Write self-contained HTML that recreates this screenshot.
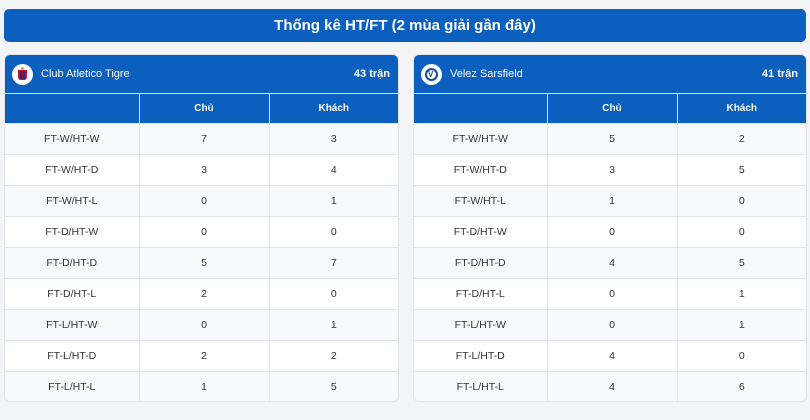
<!DOCTYPE html>
<html><head><meta charset="utf-8"><style>
*{box-sizing:border-box;margin:0;padding:0}
body{width:810px;height:420px;background:#f3f4f6;font-family:"Liberation Sans","DejaVu Sans",sans-serif;position:relative;overflow:hidden}
.title{position:absolute;left:4px;top:9px;width:802px;height:33px;background:#0b5fbf;border-radius:5px;color:#fff;font-weight:bold;font-size:15px;text-align:center;line-height:33px}
.panel{position:absolute;top:54px;height:348px;background:#fff;border-radius:6px;overflow:hidden;border:1px solid #e3e5e8}
.head{height:38px;background:#0b5fbf;color:#fff;font-size:11px;display:flex;align-items:center;padding:0 7px;position:relative}
.logo{width:21px;height:21px;border-radius:50%;background:#fff;margin-right:8px;position:relative;flex:none}
.head .n{position:absolute;right:8px;font-weight:bold}
table{border-collapse:collapse;width:100%;table-layout:fixed}
th{height:30px;background:#0b5fbf;color:#fff;font-size:10px;font-weight:bold;border-left:1px solid #d7e3f4;border-top:1px solid #d7e3f4}
th:first-child{border-left:none}
td{height:31px;font-size:10.5px;color:#333;text-align:center;border-top:1px solid #e2e4e8;border-left:1px solid #e2e4e8}
td:first-child{border-left:none}
tr:nth-child(even) td{background:#f8f9fb}
</style></head><body>
<div class="title">Thống kê HT/FT (2 mùa giải gần đây)</div>

<div class="panel" style="left:4px;width:395px">
<div class="head"><div class="logo"><div style="position:absolute;left:6px;top:6px;width:9px;height:10px;background:#c8102e;border-radius:0 0 3px 3px"></div><div style="position:absolute;left:8px;top:7px;width:2px;height:8px;background:#1a2a7a"></div><div style="position:absolute;left:11px;top:7px;width:2px;height:8px;background:#1a2a7a"></div><div style="position:absolute;left:9px;top:3px;width:3px;height:3px;background:#e8a020;border-radius:50%"></div></div>Club Atletico Tigre<span class="n">43 trận</span></div>
<table><colgroup><col style="width:134px"><col style="width:130px"><col></colgroup>
<tr><th></th><th>Chủ</th><th>Khách</th></tr>
<tr><td>FT-W/HT-W</td><td>7</td><td>3</td></tr>
<tr><td>FT-W/HT-D</td><td>3</td><td>4</td></tr>
<tr><td>FT-W/HT-L</td><td>0</td><td>1</td></tr>
<tr><td>FT-D/HT-W</td><td>0</td><td>0</td></tr>
<tr><td>FT-D/HT-D</td><td>5</td><td>7</td></tr>
<tr><td>FT-D/HT-L</td><td>2</td><td>0</td></tr>
<tr><td>FT-L/HT-W</td><td>0</td><td>1</td></tr>
<tr><td>FT-L/HT-D</td><td>2</td><td>2</td></tr>
<tr><td>FT-L/HT-L</td><td>1</td><td>5</td></tr>
</table></div>

<div class="panel" style="left:413px;width:394px">
<div class="head"><div class="logo"><div style="position:absolute;left:4px;top:4px;width:13px;height:13px;border-radius:50%;border:2px solid #1a4aa0"></div><div style="position:absolute;left:7px;top:7px;color:#1a4aa0;font-size:8px;font-weight:bold;line-height:8px">V</div></div>Velez Sarsfield<span class="n">41 trận</span></div>
<table><colgroup><col style="width:133px"><col style="width:130px"><col></colgroup>
<tr><th></th><th>Chủ</th><th>Khách</th></tr>
<tr><td>FT-W/HT-W</td><td>5</td><td>2</td></tr>
<tr><td>FT-W/HT-D</td><td>3</td><td>5</td></tr>
<tr><td>FT-W/HT-L</td><td>1</td><td>0</td></tr>
<tr><td>FT-D/HT-W</td><td>0</td><td>0</td></tr>
<tr><td>FT-D/HT-D</td><td>4</td><td>5</td></tr>
<tr><td>FT-D/HT-L</td><td>0</td><td>1</td></tr>
<tr><td>FT-L/HT-W</td><td>0</td><td>1</td></tr>
<tr><td>FT-L/HT-D</td><td>4</td><td>0</td></tr>
<tr><td>FT-L/HT-L</td><td>4</td><td>6</td></tr>
</table></div>
</body></html>
